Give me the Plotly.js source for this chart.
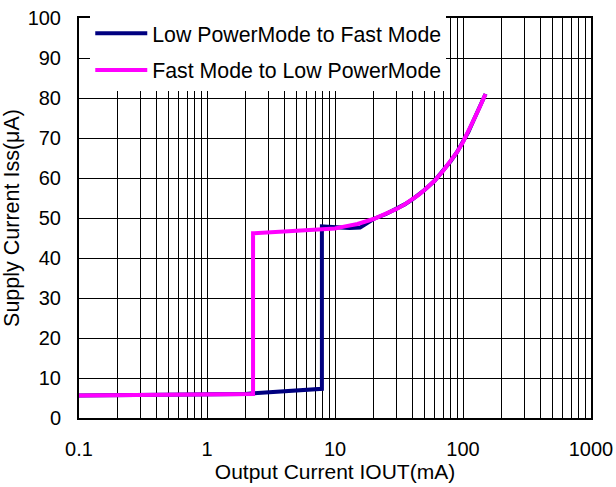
<!DOCTYPE html>
<html>
<head>
<meta charset="utf-8">
<script src="https://cdn.plot.ly/plotly-3.0.1.min.js"></script>
<style>html,body{margin:0;padding:0;background:#fff}#chart{width:616px;height:487px}</style>
</head>
<body>
<div id="chart"></div>
<script>
// Data
const lowToFastX = [0.1, 0.3, 1, 2, 2.3, 4, 7.9, 7.9, 10, 13, 15.7, 18.8, 20, 25, 30, 35, 40, 45, 50, 60, 70, 80, 90, 100, 110, 120, 135, 150];
const lowToFastY = [5.6, 5.7, 5.8, 6.0, 6.2, 6.6, 7.3, 47.9, 47.6, 47.5, 47.6, 49.3, 49.75, 51, 52.2, 53.4, 54.6, 55.8, 57.0, 59.3, 61.8, 64.2, 66.5, 69.0, 71.5, 74.2, 77.7, 81];
const fastToLowX = [0.1, 0.3, 1, 2.29, 2.29, 3, 5, 7.6, 10, 12, 15, 20, 25, 30, 35, 40, 45, 50, 60, 70, 80, 90, 100, 110, 120, 135, 150];
const fastToLowY = [5.6, 5.7, 5.8, 6.0, 46.2, 46.4, 46.7, 47.1, 47.4, 47.9, 48.5, 49.75, 51, 52.2, 53.4, 54.6, 55.8, 57.0, 59.3, 61.8, 64.2, 66.5, 69.0, 71.5, 74.2, 77.7, 81];

const seriesNames = ["Low PowerMode to Fast Mode", "Fast Mode to Low PowerMode"];
const xTickVals = [0.1, 1, 10, 100, 1000];
const xTickText = ["0.1", "1", "10", "100", "1000"];
const yTickVals = [0, 10, 20, 30, 40, 50, 60, 70, 80, 90, 100];

const xMinorVals = [];
[0.1, 1, 10, 100].forEach(d => { for (let m = 2; m <= 9; m++) xMinorVals.push(+(d * m).toPrecision(3)); });

const FONT = 'Arial, "Liberation Sans", sans-serif';

const traces = [
  {x: lowToFastX, y: lowToFastY, name: seriesNames[0], mode: 'lines', legendgroup: 'a',
   line: {color: '#000080', width: 4}},
  {x: fastToLowX, y: fastToLowY, name: seriesNames[1], mode: 'lines', legendgroup: 'b',
   line: {color: '#FF00FF', width: 4}}
];

const layout = {
  width: 616, height: 487,
  margin: {l: 79, r: 25, t: 18, b: 69},
  paper_bgcolor: '#fff', plot_bgcolor: '#fff',
  font: {family: FONT, size: 20, color: '#000'},
  showlegend: true,
  legend: {
    x: 0.022, y: 1.0125, xanchor: 'left', yanchor: 'top',
    bgcolor: '#fff', borderwidth: 0,
    font: {family: FONT, size: 21.3, color: '#000'},
    traceorder: 'grouped', tracegroupgap: 6,
    itemwidth: 52
  },
  xaxis: {
    type: 'log', range: [-1, 3],
    tickmode: 'array', tickvals: xTickVals, ticktext: xTickText,
    showgrid: true, gridcolor: '#000', gridwidth: 1,
    minor: {tickmode: 'array', tickvals: xMinorVals, showgrid: true, gridcolor: '#000', gridwidth: 1, ticks: ''},
    ticks: '', showline: true, linecolor: '#000', linewidth: 2, mirror: true,
    zeroline: false,
    ticklabelstandoff: 12,
    tickfont: {family: FONT, size: 20},
    title: {text: 'Output Current IOUT(mA)', font: {family: FONT, size: 21}, standoff: 0}
  },
  yaxis: {
    range: [0, 100],
    tickmode: 'array', tickvals: yTickVals,
    showgrid: true, gridcolor: '#000', gridwidth: 1,
    ticks: 'inside', ticklen: 8, tickwidth: 1, tickcolor: '#000',
    showline: true, linecolor: '#000', linewidth: 2, mirror: true,
    zeroline: false,
    ticklabelstandoff: 12,
    tickfont: {family: FONT, size: 20},
    title: {text: 'Supply Current Iss(μA)', font: {family: FONT, size: 21.5}, standoff: 4}
  }
};

Plotly.newPlot('chart', traces, layout, {displayModeBar: false, staticPlot: true});
</script>
</body>
</html>
